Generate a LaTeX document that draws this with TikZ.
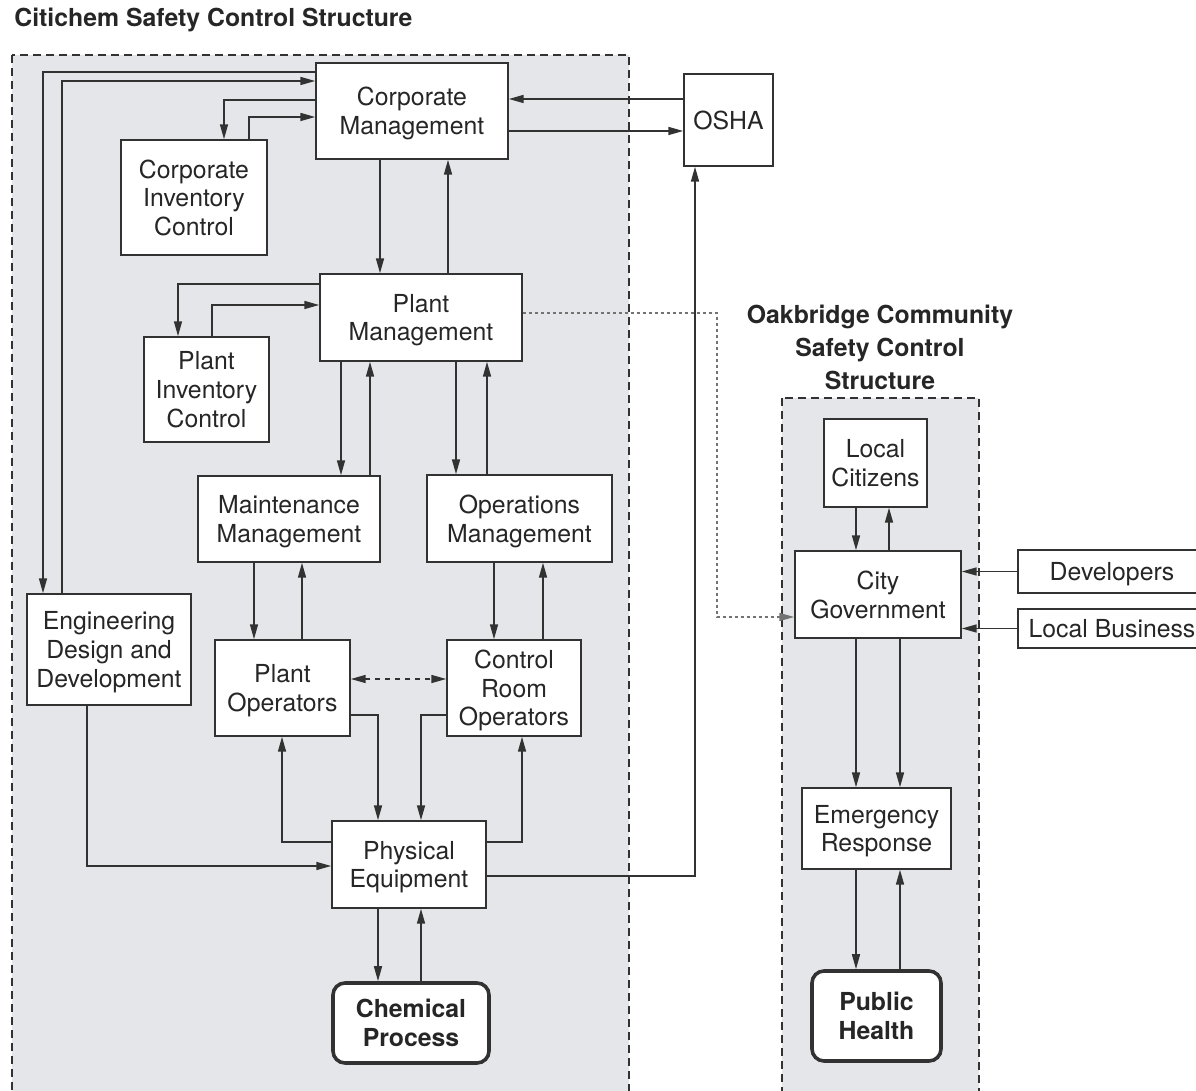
\documentclass[tikz,border=0pt]{standalone}
\usepackage{fontspec}
\setmainfont{TeX Gyre Heros}
\usetikzlibrary{arrows.meta}
\definecolor{regionfill}{RGB}{228,230,233}
\definecolor{ink}{RGB}{50,50,50}
\begin{document}
\begin{tikzpicture}[x=0.5pt,y=-0.5pt,
  box/.style={draw=ink, line width=0.7pt, fill=white, inner sep=0pt, align=center,
    text depth=0pt, font=\fontsize{12.4}{14.3}\selectfont, text=black!85},
  hardbox/.style={box, rounded corners=6pt, line width=1.8pt,
    font=\fontsize{12.4}{14.5}\selectfont\bfseries},
  region/.style={draw=ink, fill=regionfill, line width=0.6pt, dash pattern=on 4pt off 2.5pt},
  heading/.style={inner sep=0pt, align=center, text=black!85,
    font=\fontsize{12.4}{16.5}\selectfont\bfseries},
  tip/.style={Triangle[length=7.5pt,width=4pt]},
  arr/.style={draw=ink, line width=0.8pt, -{Triangle[length=7.5pt,width=4pt]}},
  dotarr/.style={draw=black!55, line width=0.8pt, dash pattern=on 1.5pt off 1.5pt,
    -{Triangle[length=7.5pt,width=4pt]}},
  peerarr/.style={draw=ink, line width=0.8pt, dash pattern=on 2.5pt off 2.5pt,
    {Triangle[length=7.5pt,width=4pt]}-{Triangle[length=7.5pt,width=4pt]}}
]
\path[use as bounding box, clip] (0,0) rectangle (1196,1091);

% control structure regions
\draw[region] (12,55) rectangle (629,1110);
\draw[region] (782,398) rectangle (979,1110);

% headings
\node[heading, anchor=west] (h1) at (14,20) {Citichem Safety Control Structure};
\node[heading] (h2) at (880,347) {Oakbridge Community\\Safety Control\\Structure};

% Citichem components
\node[box, minimum width=96pt, minimum height=48pt] (cm) at (412,111) {Corporate\\Management};
\node[box, minimum width=44.5pt, minimum height=46pt] (osha) at (728.5,120) {OSHA};
\node[box, minimum width=73pt, minimum height=57.5pt] (cic) at (194,197.5) {Corporate\\Inventory\\Control};
\node[box, minimum width=101pt, minimum height=43.5pt] (pm) at (421,317.5) {Plant\\Management};
\node[box, minimum width=62.5pt, minimum height=52.5pt] (pic) at (206.5,389.5) {Plant\\Inventory\\Control};
\node[box, minimum width=91pt, minimum height=43pt] (mm) at (289,519) {Maintenance\\Management};
\node[box, minimum width=92.5pt, minimum height=43.5pt] (om) at (519.5,518.5) {Operations\\Management};
\node[box, minimum width=82pt, minimum height=55.5pt] (eng) at (109,649.5) {Engineering\\Design and\\Development};
\node[box, minimum width=67.5pt, minimum height=48pt] (po) at (282.5,688) {Plant\\Operators};
\node[box, minimum width=67pt, minimum height=48pt] (cro) at (514,688) {Control\\Room\\Operators};
\node[box, minimum width=77pt, minimum height=43.5pt] (pe) at (409,864.5) {Physical\\Equipment};
\node[hardbox, minimum width=78pt, minimum height=40pt] (chem) at (411,1023) {Chemical\\Process};

% Oakbridge components
\node[box, minimum width=51.5pt, minimum height=44pt] (lc) at (875.5,463) {Local\\Citizens};
\node[box, minimum width=83pt, minimum height=43.5pt] (cg) at (878,594.5) {City\\Government};
\node[box, minimum width=94pt, minimum height=21.5pt] (dev) at (1112,571.5) {Developers};
\node[box, minimum width=94pt, minimum height=19.5pt] (lb) at (1112,628.5) {Local Business};
\node[box, minimum width=74.5pt, minimum height=40.5pt] (er) at (876.5,828.5) {Emergency\\Response};
\node[hardbox, minimum width=64.5pt, minimum height=45pt] (ph) at (876.5,1016) {Public\\Health};

% corporate level and its loops
\draw[arr] (cm.west |- 0,72) -| (eng.north -| 43,0);
\draw[arr] (eng.north -| 62,0) |- (cm.west |- 0,81);
\draw[arr] (cm.west |- 0,100) -| (cic.north -| 224,0);
\draw[arr] (cic.north -| 249,0) |- (cm.west |- 0,117);
\draw[arr] (osha.west |- 0,99) -- (cm.east |- 0,99);
\draw[arr] (cm.east |- 0,131) -- (osha.west |- 0,131);
\draw[arr] (cm.south -| 380,0) -- (pm.north -| 380,0);
\draw[arr] (pm.north -| 448,0) -- (cm.south -| 448,0);

% plant level
\draw[arr] (pm.west |- 0,284) -| (pic.north -| 178,0);
\draw[arr] (pic.north -| 212,0) |- (pm.west |- 0,305);
\draw[arr] (pm.south -| 341,0) -- (mm.north -| 341,0);
\draw[arr] (mm.north -| 370,0) -- (pm.south -| 370,0);
\draw[arr] (pm.south -| 456,0) -- (om.north -| 456,0);
\draw[arr] (om.north -| 487,0) -- (pm.south -| 487,0);

% operators
\draw[arr] (mm.south -| 254,0) -- (po.north -| 254,0);
\draw[arr] (po.north -| 302,0) -- (mm.south -| 302,0);
\draw[arr] (om.south -| 494,0) -- (cro.north -| 494,0);
\draw[arr] (cro.north -| 543,0) -- (om.south -| 543,0);
\draw[peerarr] (po.east |- 0,679) -- (cro.west |- 0,679);

% physical equipment
\draw[arr] (po.east |- 0,715) -| (pe.north -| 378,0);
\draw[arr] (cro.west |- 0,715) -| (pe.north -| 421,0);
\draw[arr] (pe.west |- 0,842) -| (po.south -| 282,0);
\draw[arr] (pe.east |- 0,842) -| (cro.south -| 522,0);
\draw[arr] (eng.south -| 87,0) |- (pe.west |- 0,866);
\draw[arr] (pe.south -| 378,0) -- (chem.north -| 378,0);
\draw[arr] (chem.north -| 421,0) -- (pe.south -| 421,0);
\draw[arr] (pe.east |- 0,876) -| (osha.south -| 695,0);

% link between the two structures
\coordinate (bend) at (717,617);
\draw[dotarr] (pm.east |- 0,313) -| (bend) -- (cg.west |- bend);

% community structure
\draw[arr] (lc.south -| 856,0) -- (cg.north -| 856,0);
\draw[arr] (cg.north -| 889,0) -- (lc.south -| 889,0);
\draw[arr] (dev.west) -- (cg.east |- dev.west);
\draw[arr] (lb.west) -- (cg.east |- lb.west);
\draw[arr] (cg.south -| 856,0) -- (er.north -| 856,0);
\draw[arr] (cg.south -| 900,0) -- (er.north -| 900,0);
\draw[arr] (er.south -| 856,0) -- (ph.north -| 856,0);
\draw[arr] (ph.north -| 900,0) -- (er.south -| 900,0);
\end{tikzpicture}
\end{document}
